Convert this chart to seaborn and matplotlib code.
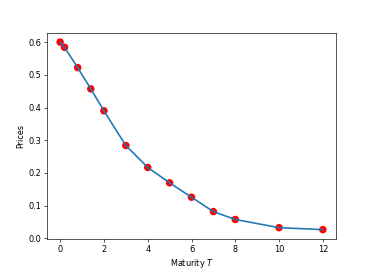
import matplotlib
matplotlib.use("Agg")
import matplotlib.pyplot as plt
import seaborn as sns
import pandas as pd

maturities = [0, 0.2, 0.8, 1.4, 2, 3, 4, 5, 6, 7, 8, 10, 12]
prices = [0.600, 0.584, 0.522, 0.457, 0.390, 0.284, 0.217, 0.170, 0.126, 0.082, 0.058, 0.033, 0.027]

df = pd.DataFrame({"T": maturities, "P": prices})

plt.rcParams["font.size"] = 10
dpi = 58.4
fig = plt.figure(figsize=(374 / dpi, 273 / dpi), dpi=dpi)
ax = fig.add_axes([47 / 374, 1 - 239 / 273, (336 - 47) / 374, (239 - 32.7) / 273])

sns.scatterplot(data=df, x="T", y="P", color="red", s=85, edgecolor="none", ax=ax, zorder=2)
sns.lineplot(data=df, x="T", y="P", color="#1f77b4", linewidth=2.0, ax=ax, zorder=3)

ax.set_xticks([0, 2, 4, 6, 8, 10, 12])
ax.set_xlabel("Maturity $T$")
ax.set_ylabel("Prices")

fig.savefig("out.png", dpi=dpi)
